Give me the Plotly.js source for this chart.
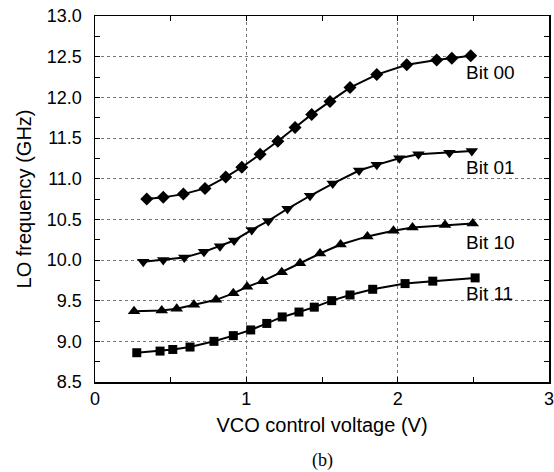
<!DOCTYPE html>
<html>
<head>
<meta charset="utf-8">
<script src="https://cdn.plot.ly/plotly-3.0.1.min.js"></script>
<style>html,body{margin:0;padding:0;background:#fff;}#chart{width:554px;height:472px;}</style>
</head>
<body>
<div id="chart"></div>
<script>
const bit00X = [0.342,0.451,0.584,0.727,0.864,0.970,1.091,1.208,1.322,1.432,1.553,1.685,1.862,2.060,2.258,2.358,2.483];
const bit00Y = [10.75,10.77,10.81,10.88,11.02,11.14,11.30,11.46,11.63,11.79,11.95,12.12,12.28,12.40,12.46,12.48,12.51];
const bit01X = [0.319,0.451,0.590,0.720,0.826,0.919,1.036,1.145,1.272,1.421,1.571,1.745,1.862,2.011,2.137,2.342,2.490];
const bit01Y = [9.98,10.00,10.03,10.10,10.17,10.24,10.37,10.48,10.63,10.79,10.94,11.10,11.17,11.25,11.30,11.32,11.34];
const bit10X = [0.258,0.441,0.540,0.654,0.800,0.914,1.005,1.107,1.234,1.355,1.487,1.623,1.800,1.972,2.098,2.313,2.496];
const bit10Y = [9.37,9.38,9.40,9.45,9.51,9.59,9.67,9.74,9.85,9.96,10.08,10.19,10.29,10.36,10.40,10.43,10.45];
const bit11X = [0.276,0.430,0.514,0.628,0.786,0.914,1.029,1.135,1.237,1.348,1.449,1.564,1.685,1.835,2.049,2.232,2.512];
const bit11Y = [8.86,8.88,8.90,8.93,9.00,9.07,9.14,9.22,9.30,9.36,9.42,9.50,9.57,9.64,9.71,9.74,9.78];
const seriesNames = ['Bit 00','Bit 01','Bit 10','Bit 11'];
const labelX = [2.44,2.44,2.44,2.44];
const labelY = [12.30,11.14,10.21,9.59];

const font = 'Liberation Sans, Arial, sans-serif';
const symbols = ['diamond','triangle-down','triangle-up','square'];
const sizes = [10,11,11,9];
const xs = [bit00X,bit01X,bit10X,bit11X];
const ys = [bit00Y,bit01Y,bit10Y,bit11Y];

const traces = xs.map((x,i)=>({
  x: x, y: ys[i], name: seriesNames[i], type:'scatter', mode:'lines+markers',
  line:{color:'#000',width:2},
  marker:{symbol:symbols[i],size:sizes[i],color:'#000'},
  showlegend:false, cliponaxis:false
}));

const annotations = seriesNames.map((t,i)=>({
  x: labelX[i], y: labelY[i], xref:'x', yref:'y', text:t, showarrow:false,
  xanchor:'left', yanchor:'middle', font:{family:font,size:19,color:'#000'}
}));
annotations.push({
  x:0.5, y:0, xref:'paper', yref:'paper', yshift:-78, text:'(b)', showarrow:false,
  xanchor:'center', yanchor:'middle', font:{family:'Liberation Serif, Times New Roman, serif',size:18,color:'#000'}
});

const axisCommon = {
  showline:true, linecolor:'#000', linewidth:1.5, mirror:'ticks',
  ticks:'inside', tickcolor:'#000', ticklen:5, tickwidth:1,
  showgrid:true, gridcolor:'#777', gridwidth:1, griddash:'3px,3px',
  zeroline:false, ticklabeloverflow:'allow',
  tickfont:{family:font,size:18,color:'#000'}
};

const layout = {
  width:554, height:472,
  margin:{l:95,r:5,t:16,b:90},
  paper_bgcolor:'#fff', plot_bgcolor:'#fff',
  xaxis: Object.assign({}, axisCommon, {
    range:[0,3], tickvals:[0,1,2,3], ticktext:['0','1','2','3'],
    minor:{tickvals:[0.5,1.5,2.5], ticks:'inside', ticklen:5, tickcolor:'#000', showgrid:false},
    ticklabelstandoff:0,
    title:{text:'VCO control voltage (V)', font:{family:font,size:20,color:'#000'}, standoff:10}
  }),
  yaxis: Object.assign({}, axisCommon, {
    range:[8.5,13], dtick:0.5, tick0:8.5, tickformat:'.1f',
    minor:{dtick:0.25, ticks:'inside', ticklen:5, tickcolor:'#000', showgrid:false},
    ticklabelstandoff:8,
    title:{text:'LO frequency (GHz)', font:{family:font,size:20,color:'#000'}, standoff:10}
  }),
  annotations: annotations
};

Plotly.newPlot('chart', traces, layout, {displayModeBar:false, staticPlot:true});
</script>
</body>
</html>
